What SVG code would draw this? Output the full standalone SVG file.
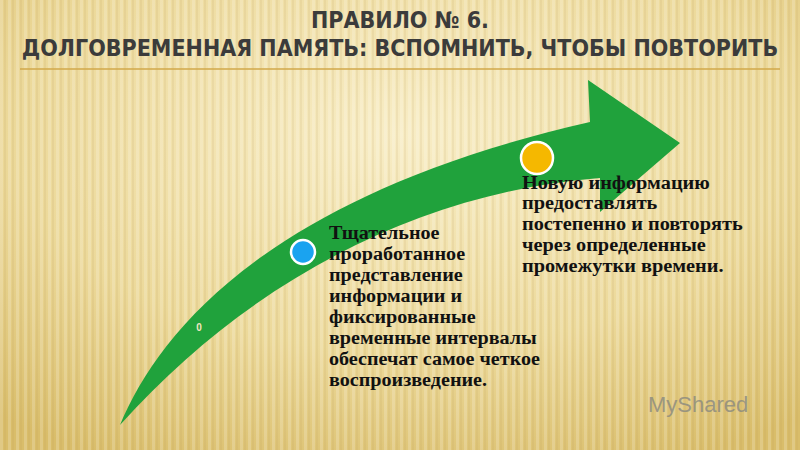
<svg xmlns="http://www.w3.org/2000/svg" width="800" height="450" viewBox="0 0 800 450">
<defs>
<radialGradient id="bg" cx="0.5" cy="0.3" r="0.8">
<stop offset="0" stop-color="#f8edc6"/><stop offset="0.6" stop-color="#ecd99a"/><stop offset="1" stop-color="#d9bd6a"/>
</radialGradient>
<pattern id="st" width="8" height="450" patternUnits="userSpaceOnUse">
<rect x="0" y="0" width="3" height="450" fill="#ffffff" opacity="0.18"/>
<rect x="4" y="0" width="2" height="450" fill="#b89a50" opacity="0.12"/>
</pattern>
<style>
.t{font-family:"DejaVu Sans Condensed","DejaVu Sans",sans-serif;font-weight:bold;font-size:23px;fill:#3b3b3b;text-anchor:middle}
.b{font-family:"Liberation Serif",serif;font-weight:bold;font-size:19px;fill:#111}
</style>
</defs>
<rect width="800" height="450" fill="url(#bg)"/>
<rect width="800" height="450" fill="url(#st)"/>
<text class="t" x="400" y="28">ПРАВИЛО № 6.</text>
<text class="t" x="400" y="56">ДОЛГОВРЕМЕННАЯ ПАМЯТЬ: ВСПОМНИТЬ, ЧТОБЫ ПОВТОРИТЬ</text>
<line x1="20" y1="69" x2="780" y2="69" stroke="#d2a94a" stroke-width="1.5"/>
<g id="arrow">
<path d="M120,425 C160,330 270,195 590,122 L588,80 L680,143 L600,212 L600,178 C420,192 250,280 120,425 Z" fill="#20a23c"/>
</g>
<g id="n1"><circle cx="303" cy="252" r="12" fill="#1aa3f0" stroke="#fff" stroke-width="2.5"/></g>
<g id="n2"><circle cx="537" cy="158" r="16" fill="#f5b800" stroke="#fff" stroke-width="2.5"/></g>
<text x="199" y="331" font-family="Liberation Sans,sans-serif" font-weight="bold" font-size="10" fill="#f3e6c0" text-anchor="middle">0</text>
<g id="t1" transform="translate(329,0) scale(1.06,1) translate(-329,0)">
<text class="b" x="329" y="239">Тщательное</text>
<text class="b" x="329" y="260">проработанное</text>
<text class="b" x="329" y="281">представление</text>
<text class="b" x="329" y="302">информации и</text>
<text class="b" x="329" y="323">фиксированные</text>
<text class="b" x="329" y="344">временные интервалы</text>
<text class="b" x="329" y="365">обеспечат самое четкое</text>
<text class="b" x="329" y="386">воспроизведение.</text>
</g>
<g id="t2" transform="translate(522,0) scale(1.07,1) translate(-522,0)">
<text class="b" x="522" y="189">Новую информацию</text>
<text class="b" x="522" y="209">предоставлять</text>
<text class="b" x="522" y="230">постепенно и повторять</text>
<text class="b" x="522" y="251">через определенные</text>
<text class="b" x="522" y="272">промежутки времени.</text>
</g>
<text x="648" y="412" font-family="Liberation Sans,sans-serif" font-size="22" fill="#8a8a80" opacity="0.8">MyShared</text>
</svg>
